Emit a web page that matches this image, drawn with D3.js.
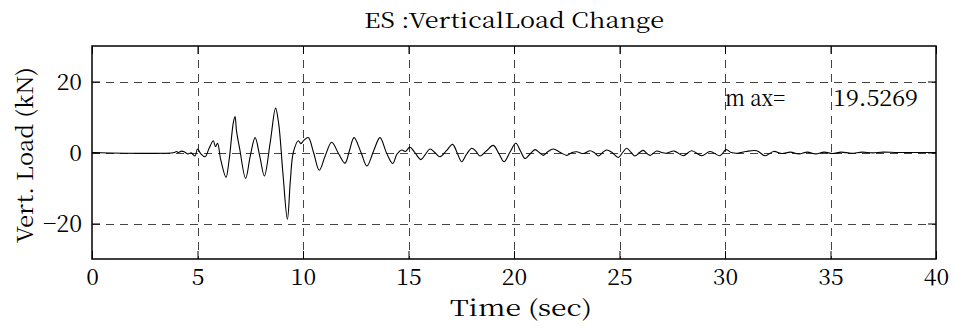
<!DOCTYPE html>
<html><head><meta charset="utf-8">
<script src="https://cdn.jsdelivr.net/npm/d3@7"></script>
<style>html,body{margin:0;padding:0;background:#fff;}</style>
</head>
<body><svg id="c" width="955" height="332"></svg>
<script>
const titleText = "ES :VerticalLoad Change";
const xLabel = "Time (sec)";
const yLabel = "Vert. Load (kN)";
const maxLabel = "m ax=";
const maxValue = "19.5269";
const xTicks = [0,5,10,15,20,25,30,35,40];
const yTicks = [-20,0,20];

const time = [0,3.9,4.0,4.1,4.25,4.4,4.55,4.7,4.88,5.0,
 5.15,5.36,5.55,5.75,5.85,5.95,6.1,6.35,6.5,6.7,
 6.78,6.85,7.0,7.28,7.5,7.73,7.95,8.17,8.45,8.70,
 8.85,9.05,9.26,9.4,9.54,9.78,9.9,10.05,10.25,10.5,
 10.77,11.05,11.36,11.7,11.99,12.2,12.42,12.75,13.03,13.35,
 13.65,13.95,14.25,14.45,14.68,14.85,15.07,15.3,15.59,15.8,
 16.02,16.25,16.49,16.8,17.09,17.3,17.52,17.75,18.0,18.2,
 18.39,18.7,19.02,19.3,19.53,19.8,20.09,20.3,20.52,20.75,
 21.0,21.2,21.39,21.6,21.86,22.2,22.5,22.75,22.97,23.3,
 23.6,23.8,24.0,24.2,24.39,24.65,24.94,25.15,25.34,25.55,
 25.73,25.95,26.13,26.3,26.45,26.76,27.0,27.2,27.6,28.02,
 28.42,28.9,29.29,29.76,30.05,30.3,30.6,31.0,31.5,31.9,
 32.3,32.7,33.1,33.5,33.9,34.3,34.7,35.1,35.5,36.0,
 36.5,37.0,37.5,38.2,40];
const load = [0,0,0.3,0,0.4,0.1,-0.4,-0.1,-1,1,
 -0.3,-1.2,1.2,3.3,1.6,2.6,-2,-7,-2,8.5,
 10.1,6,1,-7.3,-1,4.2,-1,-6.6,3,12.5,
 8,-6,-18.8,-8,0,3.3,2.5,3.5,4.2,0,
 -5,-1,2.9,-0.5,-3,0.5,4.2,0,-3.8,0.5,
 4.2,0,-3.1,-0.5,0.7,0.3,1.5,0,-2,-0.5,
 1,0,-1.2,0.5,2.3,0,-2.6,-0.5,1.2,0.3,
 -1,0.5,2,-0.5,-2.6,0,2.6,0.5,-1.7,-0.5,
 0.8,0,-0.8,0.2,1,0,-0.8,0,0.2,-0.3,
 0.5,0,-1,0,0.7,0,-1.4,0,1.2,0,
 -1,0,0.6,-0.3,-0.8,0.4,0,-0.2,0.4,-0.9,
 0.5,-0.9,0.3,-0.9,0.8,0,-0.2,0.3,0.5,-0.9,
 0.3,-0.3,0.1,-0.4,0.1,-0.4,0.1,-0.3,0.1,-0.2,
 0.1,-0.1,0.1,0,0];

const L=92, R=936, T=46, B=259;
const FONT = '"Noto Serif CJK JP"';
const svg = d3.select("#c");
const x = d3.scaleLinear().domain([0,40]).range([L,R]);
const y = d3.scaleLinear().domain([-30,30]).range([B,T]);

// grid
const grid = svg.append("g").attr("stroke","#444").attr("stroke-width",1).attr("stroke-dasharray","8,6");
grid.selectAll("line.gx").data(xTicks.filter(d=>d>0&&d<40)).join("line")
  .attr("x1",d=>Math.round(x(d))+0.5).attr("x2",d=>Math.round(x(d))+0.5).attr("y1",T).attr("y2",B);
grid.selectAll("line.gy").data(yTicks).join("line")
  .attr("y1",d=>Math.round(y(d))+0.5).attr("y2",d=>Math.round(y(d))+0.5).attr("x1",L).attr("x2",R);

// data line
const data = time.map((t,i)=>[t,load[i]]);
svg.append("path").datum(data)
  .attr("fill","none").attr("stroke","#000").attr("stroke-width",1.1)
  .attr("d", d3.line().x(d=>x(d[0])).y(d=>y(d[1])).curve(d3.curveCatmullRom.alpha(0.5)));

// axes
const fs = 23;
const ax = svg.append("g").attr("transform",`translate(0,${B})`)
  .call(d3.axisBottom(x).tickValues(xTicks).tickSize(-8).tickFormat(d3.format("d")));
ax.selectAll("text").attr("y",26).attr("dy",0).style("font-size",fs+"px").style("font-family",FONT).style("fill","#000");
const axT = svg.append("g").attr("transform",`translate(0,${T})`)
  .call(d3.axisTop(x).tickValues(xTicks).tickSize(-8).tickFormat(""));
const ay = svg.append("g").attr("transform",`translate(${L},0)`)
  .call(d3.axisLeft(y).tickValues(yTicks).tickSize(-8).tickFormat(d3.format("d")));
ay.selectAll("text").attr("x",-10).attr("dy","0.34em").style("font-size",fs+"px").style("font-family",FONT).style("fill","#000");
const ayR = svg.append("g").attr("transform",`translate(${R},0)`)
  .call(d3.axisRight(y).tickValues(yTicks).tickSize(-8).tickFormat(""));
[ax,axT,ay,ayR].forEach(g=>{g.select(".domain").remove(); g.selectAll("line").attr("stroke","#000");});

// frame
svg.append("rect").attr("x",L).attr("y",T).attr("width",R-L).attr("height",B-T)
  .attr("fill","none").attr("stroke","#000").attr("stroke-width",1.5);

// texts
function label(sel){ return sel.style("font-family",FONT).style("fill","#000"); }
label(svg.append("text")).attr("x",(L+R)/2).attr("y",28).attr("text-anchor","middle")
  .attr("textLength",300).attr("lengthAdjust","spacingAndGlyphs").style("font-size","21px").text(titleText);
label(svg.append("text")).attr("x",(L+R)/2 + 7).attr("y",316).attr("text-anchor","middle")
  .attr("textLength",142).attr("lengthAdjust","spacingAndGlyphs").style("font-size","22px").text(xLabel);
label(svg.append("text")).attr("transform","translate(33,155) rotate(-90)").attr("text-anchor","middle")
  .attr("textLength",176).attr("lengthAdjust","spacingAndGlyphs").style("font-size","22px").text(yLabel);
label(svg.append("text")).attr("x",725).attr("y",106).attr("textLength",60).attr("lengthAdjust","spacingAndGlyphs")
  .style("font-size","22px").text(maxLabel);
label(svg.append("text")).attr("x",833).attr("y",106).attr("textLength",85).attr("lengthAdjust","spacingAndGlyphs")
  .style("font-size","22px").text(maxValue);
</script></body></html>
